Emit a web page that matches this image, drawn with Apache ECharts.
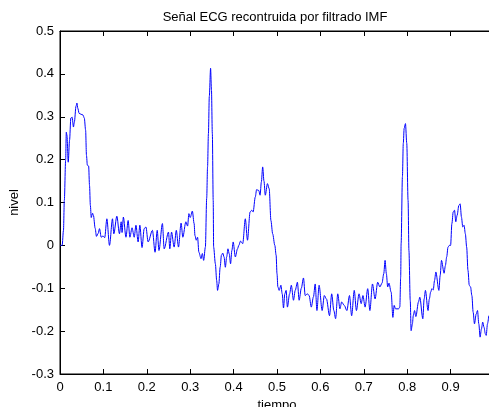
<!DOCTYPE html>
<html>
<head>
<meta charset="utf-8">
<script src="https://cdn.jsdelivr.net/npm/echarts@6/dist/echarts.min.js"></script>
<style>
  html, body { margin: 0; padding: 0; background: #fff; }
  #chart { width: 489px; height: 407px; }
</style>
</head>
<body>
<div id="chart"></div>
<script>
// tiempo (eje x) y nivel (eje y)
const tiempo = [
  0.000, 0.005, 0.008, 0.010, 0.013, 0.0145, 0.016, 0.019, 0.022, 0.025,
  0.028, 0.031, 0.033, 0.037, 0.039, 0.041, 0.044, 0.048, 0.053, 0.056,
  0.059, 0.061, 0.063, 0.066, 0.068, 0.070, 0.072, 0.075, 0.077, 0.081,
  0.084, 0.088, 0.091, 0.095, 0.099, 0.103, 0.108, 0.114, 0.121, 0.124,
  0.131, 0.137, 0.141, 0.143, 0.146, 0.152, 0.157, 0.161, 0.166, 0.171,
  0.175, 0.180, 0.184, 0.189, 0.194, 0.198, 0.203, 0.213, 0.219, 0.224,
  0.228, 0.236, 0.240, 0.250, 0.253, 0.257, 0.263, 0.268, 0.273, 0.279,
  0.283, 0.290, 0.294, 0.297, 0.300, 0.305, 0.309, 0.311, 0.314, 0.317,
  0.320, 0.325, 0.328, 0.331, 0.335, 0.338, 0.340, 0.342, 0.344, 0.347,
  0.349, 0.351, 0.353, 0.354, 0.358, 0.361, 0.363, 0.366, 0.369, 0.372,
  0.375, 0.378, 0.381, 0.384, 0.387, 0.390, 0.393, 0.396, 0.399, 0.404,
  0.409, 0.412, 0.416, 0.421, 0.427, 0.432, 0.438, 0.442, 0.445, 0.450,
  0.453, 0.458, 0.461, 0.464, 0.467, 0.470, 0.473, 0.478, 0.482, 0.486,
  0.490, 0.495, 0.498, 0.500, 0.502, 0.505, 0.509, 0.512, 0.515, 0.518,
  0.521, 0.524, 0.529, 0.533, 0.538, 0.542, 0.547, 0.551, 0.556, 0.561,
  0.565, 0.570, 0.574, 0.579, 0.584, 0.588, 0.592, 0.597, 0.604, 0.609,
  0.614, 0.621, 0.626, 0.631, 0.635, 0.640, 0.645, 0.649, 0.655, 0.661,
  0.667, 0.672, 0.678, 0.683, 0.689, 0.694, 0.698, 0.703, 0.709, 0.714,
  0.720, 0.726, 0.732, 0.737, 0.742, 0.746, 0.749, 0.752, 0.755, 0.758,
  0.763, 0.767, 0.770, 0.773, 0.780, 0.783, 0.785, 0.786, 0.789, 0.791,
  0.793, 0.796, 0.799, 0.802, 0.804, 0.807, 0.809, 0.812, 0.814, 0.817,
  0.820, 0.826, 0.829, 0.836, 0.839, 0.842, 0.848, 0.851, 0.854, 0.857,
  0.860, 0.863, 0.866, 0.873, 0.876, 0.879, 0.885, 0.888, 0.891, 0.894,
  0.897, 0.900, 0.903, 0.906, 0.909, 0.912, 0.915, 0.919, 0.922, 0.925,
  0.928, 0.931, 0.934, 0.937, 0.940, 0.943, 0.946, 0.949, 0.952, 0.955,
  0.959, 0.962, 0.965, 0.968, 0.971, 0.974, 0.977, 0.980, 0.982, 0.985,
  0.988
]
const nivel = [
  0.000, 0.000, 0.035, 0.105, 0.199, 0.264, 0.257, 0.194, 0.245, 0.297,
  0.299, 0.276, 0.287, 0.325, 0.332, 0.320, 0.308, 0.306, 0.304, 0.297,
  0.269, 0.210, 0.187, 0.185, 0.140, 0.093, 0.065, 0.075, 0.070, 0.040,
  0.021, 0.028, 0.039, 0.019, 0.022, 0.018, 0.062, 0.000, 0.062, 0.027,
  0.068, 0.027, 0.055, 0.030, 0.066, 0.019, 0.058, 0.019, 0.041, 0.019,
  0.047, 0.008, 0.047, -0.005, 0.039, 0.043, 0.008, 0.035, -0.016, 0.035,
  -0.012, 0.051, -0.008, 0.031, -0.008, 0.031, -0.004, 0.035, -0.004, 0.052,
  0.019, 0.055, 0.045, 0.074, 0.065, 0.080, 0.051, 0.023, 0.012, 0.019,
  -0.016, -0.031, -0.019, -0.035, -0.004, 0.110, 0.183, 0.261, 0.347, 0.413,
  0.362, 0.261, 0.105, -0.004, -0.043, -0.082, -0.105, -0.090, -0.051, -0.023,
  -0.018, -0.027, -0.051, -0.027, -0.008, -0.020, -0.043, -0.012, 0.008, -0.027,
  -0.008, 0.000, 0.010, 0.004, 0.062, 0.012, 0.078, 0.082, 0.078, 0.113,
  0.130, 0.128, 0.117, 0.148, 0.183, 0.150, 0.117, 0.144, 0.132, 0.058,
  0.027, 0.000, -0.023, -0.066, -0.097, -0.105, -0.093, -0.113, -0.146, -0.113,
  -0.105, -0.144, -0.113, -0.093, -0.128, -0.105, -0.086, -0.128, -0.100, -0.076,
  -0.117, -0.113, -0.117, -0.144, -0.120, -0.090, -0.152, -0.093, -0.152, -0.117,
  -0.125, -0.164, -0.113, -0.152, -0.171, -0.113, -0.148, -0.132, -0.140, -0.152,
  -0.117, -0.164, -0.105, -0.152, -0.113, -0.136, -0.117, -0.144, -0.101, -0.152,
  -0.090, -0.125, -0.086, -0.097, -0.088, -0.066, -0.035, -0.066, -0.097, -0.088,
  -0.109, -0.168, -0.140, -0.148, -0.148, -0.144, -0.074, 0.004, 0.160, 0.238,
  0.273, 0.284, 0.238, 0.105, -0.012, -0.128, -0.199, -0.183, -0.164, -0.152,
  -0.166, -0.132, -0.121, -0.171, -0.125, -0.105, -0.152, -0.125, -0.109, -0.101,
  -0.104, -0.082, -0.062, -0.105, -0.070, -0.035, -0.065, -0.047, -0.027, -0.004,
  0.000, 0.000, 0.051, 0.078, 0.082, 0.055, 0.070, 0.093, 0.097, 0.066,
  0.043, 0.047, 0.027, -0.004, -0.058, -0.093, -0.097, -0.117, -0.156, -0.183,
  -0.160, -0.152, -0.183, -0.214, -0.195, -0.179, -0.191, -0.206, -0.210, -0.183,
  -0.164
]
const ejeX = { min: 0, max: 1, paso: 0.1 }
const ejeY = { min: -0.3, max: 0.5, paso: 0.1 }

const fuente = 'Liberation Sans, Arial, sans-serif'
const etiqueta = v => String(+v.toFixed(1))

let chart = echarts.init(document.getElementById('chart'))

let option = {
  animation: false,
  title: {
    text: 'Señal ECG recontruida por filtrado IMF',
    left: 270,
    top: 6,
    textAlign: 'center',
    textStyle: { fontFamily: fuente, fontSize: 13, fontWeight: 'normal', color: '#000' }
  },
  grid: {
    left: 60, top: 31, right: -5, bottom: 33,
    outerBoundsMode: 'none',
    containLabel: false,
    show: true, borderColor: '#000', borderWidth: 1
  },
  xAxis: [{
    type: 'value',
    min: ejeX.min, max: ejeX.max, interval: ejeX.paso,
    name: 'tiempo', nameLocation: 'middle', nameGap: 21,
    nameTextStyle: { fontFamily: fuente, fontSize: 13, color: '#000' },
    axisLine: { onZero: false, lineStyle: { color: '#000', width: 1 } },
    axisTick: { inside: true, length: 5, lineStyle: { color: '#000' } },
    axisLabel: { formatter: etiqueta, fontFamily: fuente, fontSize: 13, color: '#000', margin: 7, showMaxLabel: false },
    splitLine: { show: false }
  }, {
    type: 'value', position: 'top',
    min: ejeX.min, max: ejeX.max, interval: ejeX.paso,
    axisLine: { onZero: false, lineStyle: { color: '#000', width: 1 } },
    axisTick: { inside: true, length: 5, lineStyle: { color: '#000' } },
    axisLabel: { show: false },
    splitLine: { show: false }
  }],
  yAxis: {
    type: 'value',
    min: ejeY.min, max: ejeY.max, interval: ejeY.paso,
    name: 'nivel', nameLocation: 'middle', nameGap: 33,
    nameTextStyle: { fontFamily: fuente, fontSize: 13, color: '#000' },
    axisLine: { show: true, onZero: false, lineStyle: { color: '#000', width: 1 } },
    axisTick: { show: true, inside: true, length: 5, lineStyle: { color: '#000' } },
    axisLabel: { formatter: etiqueta, fontFamily: fuente, fontSize: 13, color: '#000', margin: 6 },
    splitLine: { show: false }
  },
  series: [{
    type: 'line',
    data: tiempo.map((t, i) => [t, nivel[i]]),
    showSymbol: false,
    symbol: 'none',
    smooth: 0.3,
    smoothMonotone: 'x',
    lineStyle: { color: '#0000ff', width: 1 }
  }]
}

chart.setOption(option)
</script>
</body>
</html>
